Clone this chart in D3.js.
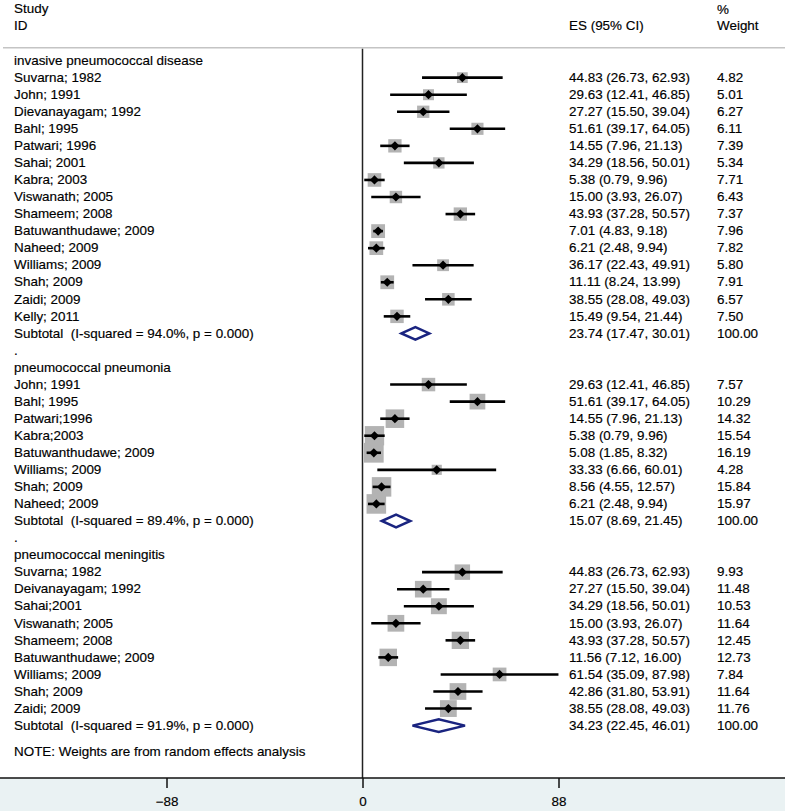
<!DOCTYPE html>
<html><head><meta charset="utf-8">
<script src="https://cdn.jsdelivr.net/npm/d3@7"></script>
<style>
html,body{margin:0;padding:0;background:#fff;}
svg text{font-family:"Liberation Sans",Arial,sans-serif;font-size:12px;fill:#000;stroke:#000;stroke-width:0.15px;white-space:pre;}
</style></head>
<body><svg id="c" width="785" height="811"></svg>
<script>
// ---- Data ----
const ipdStudies = ["Suvarna; 1982","John; 1991","Dievanayagam; 1992","Bahl; 1995","Patwari; 1996","Sahai; 2001","Kabra; 2003","Viswanath; 2005","Shameem; 2008","Batuwanthudawe; 2009","Naheed; 2009","Williams; 2009","Shah; 2009","Zaidi; 2009","Kelly; 2011"];
const ipdES = [44.83,29.63,27.27,51.61,14.55,34.29,5.38,15.00,43.93,7.01,6.21,36.17,11.11,38.55,15.49];
const ipdLo = [26.73,12.41,15.50,39.17,7.96,18.56,0.79,3.93,37.28,4.83,2.48,22.43,8.24,28.08,9.54];
const ipdHi = [62.93,46.85,39.04,64.05,21.13,50.01,9.96,26.07,50.57,9.18,9.94,49.91,13.99,49.03,21.44];
const ipdWeight = [4.82,5.01,6.27,6.11,7.39,5.34,7.71,6.43,7.37,7.96,7.82,5.80,7.91,6.57,7.50];

const pnStudies = ["John; 1991","Bahl; 1995","Patwari;1996","Kabra;2003","Batuwanthudawe; 2009","Williams; 2009","Shah; 2009","Naheed; 2009"];
const pnES = [29.63,51.61,14.55,5.38,5.08,33.33,8.56,6.21];
const pnLo = [12.41,39.17,7.96,0.79,1.85,6.66,4.55,2.48];
const pnHi = [46.85,64.05,21.13,9.96,8.32,60.01,12.57,9.94];
const pnWeight = [7.57,10.29,14.32,15.54,16.19,4.28,15.84,15.97];

const mnStudies = ["Suvarna; 1982","Deivanayagam; 1992","Sahai;2001","Viswanath; 2005","Shameem; 2008","Batuwanthudawe; 2009","Williams; 2009","Shah; 2009","Zaidi; 2009"];
const mnES = [44.83,27.27,34.29,15.00,43.93,11.56,61.54,42.86,38.55];
const mnLo = [26.73,15.50,18.56,3.93,37.28,7.12,35.09,31.80,28.08];
const mnHi = [62.93,39.04,50.01,26.07,50.57,16.00,87.98,53.91,49.03];
const mnWeight = [9.93,11.48,10.53,11.64,12.45,12.73,7.84,11.64,11.76];

const groupNames = ["invasive pneumococcal disease","pneumococcal pneumonia","pneumococcal meningitis"];
const subtotalI2 = ["94.0%","89.4%","91.9%"];
const subtotalP = ["0.000","0.000","0.000"];
const subtotalES = [23.74,15.07,34.23];
const subtotalLo = [17.47,8.69,22.45];
const subtotalHi = [30.01,21.45,46.01];
const subtotalWeight = [100.00,100.00,100.00];

const tickValues = [-88,0,88];
const noteText = "NOTE: Weights are from random effects analysis";

// ---- Build rows ----
const groups = [
  {s:ipdStudies,e:ipdES,l:ipdLo,h:ipdHi,w:ipdWeight},
  {s:pnStudies,e:pnES,l:pnLo,h:pnHi,w:pnWeight},
  {s:mnStudies,e:mnES,l:mnLo,h:mnHi,w:mnWeight}
];
const rows = [];
groups.forEach((g,gi)=>{
  if(gi>0) rows.push({type:"dot",label:"."});
  rows.push({type:"head",label:groupNames[gi]});
  g.s.forEach((name,i)=>rows.push({type:"study",label:name,es:g.e[i],lo:g.l[i],hi:g.h[i],w:g.w[i]}));
  rows.push({type:"sub",label:"Subtotal  (I-squared = "+subtotalI2[gi]+", p = "+subtotalP[gi]+")",es:subtotalES[gi],lo:subtotalLo[gi],hi:subtotalHi[gi],w:subtotalWeight[gi]});
});
rows.forEach((r,i)=>r.i=i);

// ---- Layout ----
const W=785,H=811;
const SX=1.12; // horizontal text stretch
const svg=d3.select("#c");
const x=d3.scaleLinear().domain([-88,88]).range([166.5,558.5]);
const y=d3.scaleLinear().domain([0,rows.length-1]).range([60.6,725.6]);
const axisY=778, topLine=47.7;
const colLabel=14, colES=569, colW=717;
const box=d3.scaleSqrt().domain([0,100]).range([0,49]);
const fmt=d3.format(".2f");

function txt(xp,yp,s,anchor){
  const t=svg.append("text").attr("transform",`translate(${xp},${yp}) scale(${SX},1)`)
    .attr("dy","0.35em").text(s);
  if(anchor) t.attr("text-anchor",anchor);
  return t;
}

// band
svg.append("rect").attr("x",0).attr("y",axisY).attr("width",W).attr("height",H-axisY).attr("fill","#eaf2f3");

// header
txt(colLabel,9,"Study");
txt(colLabel,26,"ID");
txt(colES,26,"ES (95% CI)");
txt(colW,10,"%");
txt(colW,26,"Weight");
svg.append("line").attr("x1",3).attr("x2",W).attr("y1",topLine).attr("y2",topLine)
  .attr("stroke","#c4c4c4").attr("stroke-width",1.6);

// zero line
svg.append("line").attr("x1",x(0)).attr("x2",x(0)).attr("y1",topLine+1).attr("y2",axisY)
  .attr("stroke","#222").attr("stroke-width",1.5);

// row labels
rows.forEach(r=>{
  txt(colLabel,y(r.i),r.label);
  if(r.type==="study"||r.type==="sub"){
    txt(colES,y(r.i),fmt(r.es)+" ("+fmt(r.lo)+", "+fmt(r.hi)+")");
    txt(colW,y(r.i),fmt(r.w));
  }
});
txt(colLabel,y(rows.length-1)+26,noteText);

// studies
const st=rows.filter(r=>r.type==="study");
svg.append("g").selectAll("rect").data(st).join("rect")
  .attr("x",d=>x(d.es)-box(d.w)/2).attr("y",d=>y(d.i)-box(d.w)/2)
  .attr("width",d=>box(d.w)).attr("height",d=>box(d.w)).attr("fill","#b3b3b3");
svg.append("g").selectAll("line").data(st).join("line")
  .attr("x1",d=>x(d.lo)).attr("x2",d=>x(d.hi)).attr("y1",d=>y(d.i)).attr("y2",d=>y(d.i))
  .attr("stroke","#000").attr("stroke-width",2.6);
svg.append("g").selectAll("path").data(st).join("path")
  .attr("d",d=>{const cx=x(d.es),cy=y(d.i),r=4.6;return `M${cx-r},${cy}L${cx},${cy-r}L${cx+r},${cy}L${cx},${cy+r}Z`;})
  .attr("fill","#000");

// subtotals
const sb=rows.filter(r=>r.type==="sub");
svg.append("g").selectAll("path").data(sb).join("path")
  .attr("d",d=>{const cy=y(d.i),hh=6.3;return `M${x(d.lo)},${cy}L${x(d.es)},${cy-hh}L${x(d.hi)},${cy}L${x(d.es)},${cy+hh}Z`;})
  .attr("fill","#fff").attr("stroke","#1a2480").attr("stroke-width",2.5);

// axis
svg.append("line").attr("x1",0).attr("x2",W).attr("y1",axisY).attr("y2",axisY)
  .attr("stroke","#111").attr("stroke-width",1.5);
const ax=svg.append("g").attr("transform",`translate(0,${axisY})`)
  .call(d3.axisBottom(x).tickValues(tickValues).tickSize(10).tickPadding(9).tickFormat(d3.format("d")));
ax.select(".domain").remove();
ax.selectAll(".tick line").attr("stroke","#111").attr("stroke-width",1.5);
ax.selectAll(".tick text").attr("font-family",null).attr("font-size",null)
  .attr("transform",`scale(${SX},1)`).style("fill","#000");
</script></body></html>
